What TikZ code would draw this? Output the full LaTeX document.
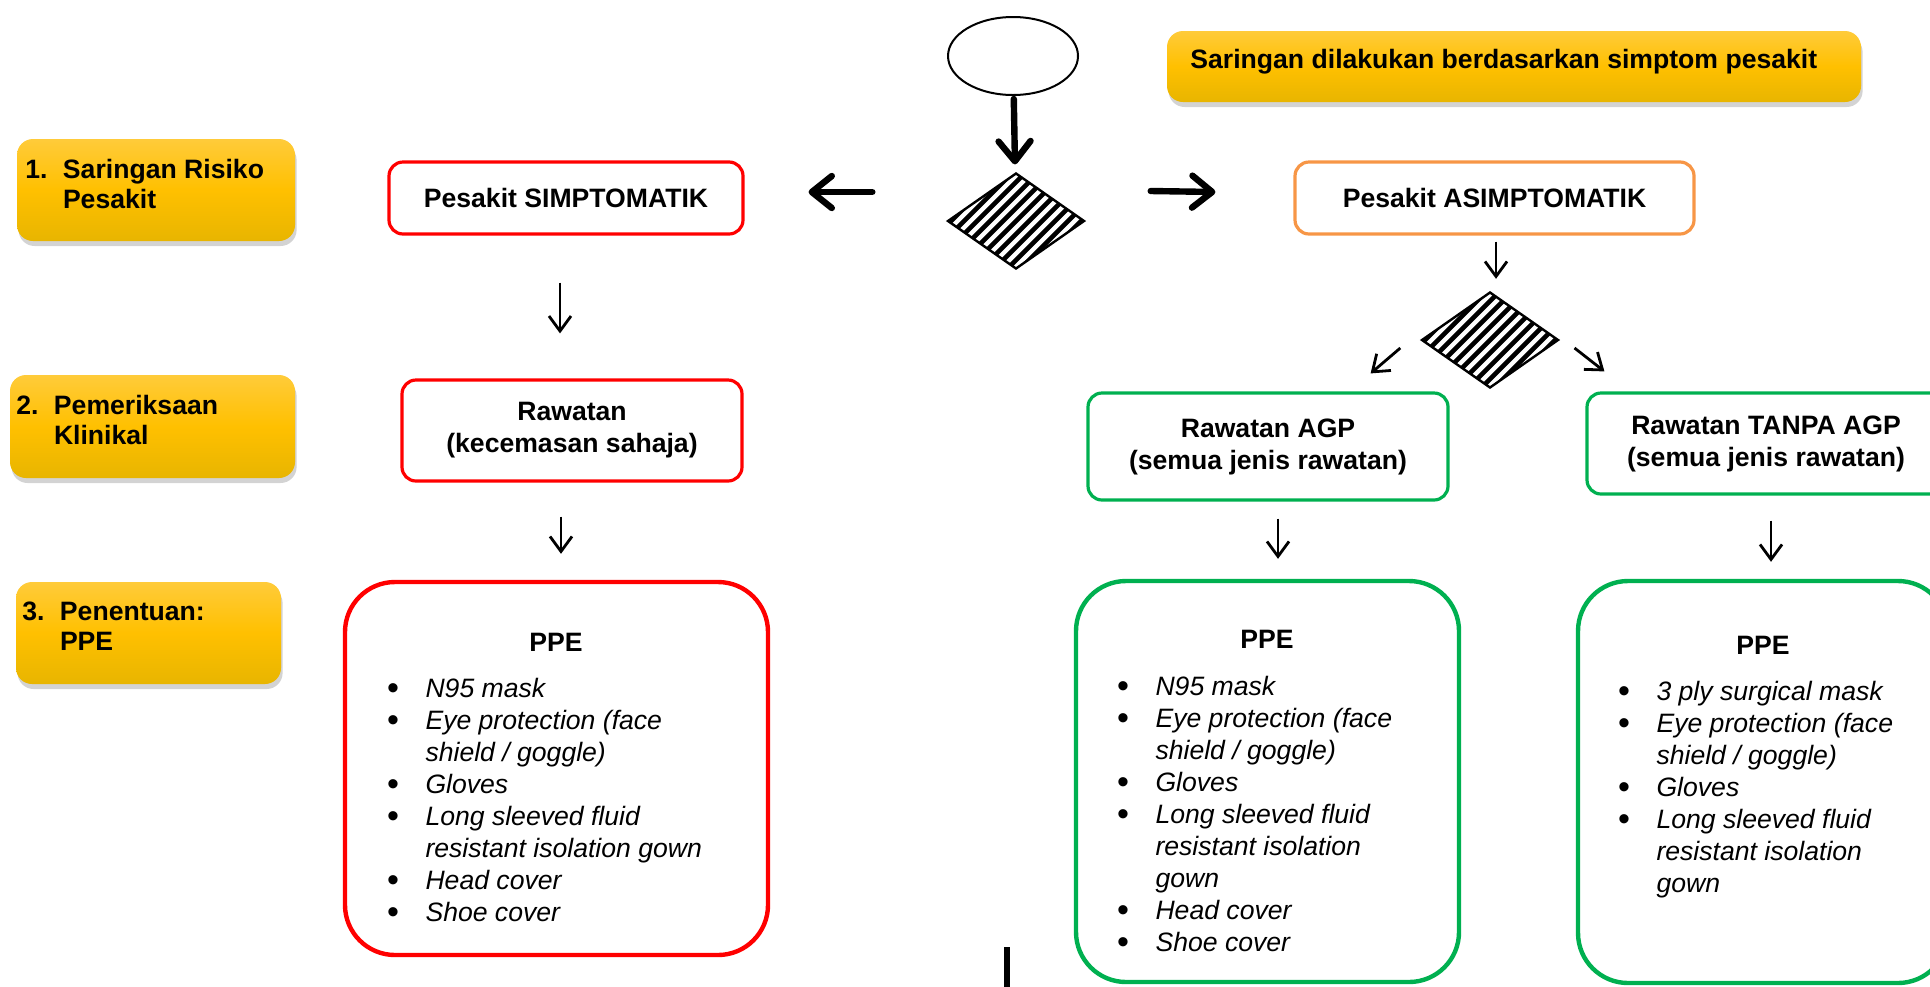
\documentclass[tikz,border=0pt]{standalone}
\usepackage{fontspec}
\setmainfont{Liberation Sans}
\usetikzlibrary{arrows.meta,shapes.geometric,shadows}

\definecolor{ytop}{HTML}{FFCB3A}
\definecolor{ymid}{HTML}{FFC000}
\definecolor{ybot}{HTML}{E8B500}
\definecolor{symred}{HTML}{FF0000}
\definecolor{asyorange}{HTML}{F79646}
\definecolor{agpgreen}{HTML}{00B050}

\newcommand{\basefont}{\fontsize{13.3}{16}\selectfont}
\newcommand{\itm}{\makebox[19.3pt][l]{\raisebox{-0.08em}{\fontsize{17}{16}\selectfont\textbullet}}}
\newcommand{\cnt}{\hspace*{19.3pt}}
\newcommand{\num}[1]{\makebox[18.8pt][l]{#1}}

\begin{document}
\begin{tikzpicture}[x=0.5pt, y=-0.5pt, font=\basefont,
  stage/.style={rounded corners=8pt, top color=ytop, bottom color=ybot, middle color=ymid,
    drop shadow={shadow xshift=0.8pt, shadow yshift=-2.5pt, opacity=0.35}, inner sep=0pt},
  stagetxt/.style={anchor=north west, inner sep=0pt, align=left,
    font=\fontsize{13.3}{15}\selectfont\bfseries},
  flowbox/.style={draw, line width=1.6pt, rounded corners=7pt, inner sep=0pt, align=center,
    font=\basefont\bfseries},
  ppebox/.style={draw, line width=2.2pt, rounded corners=25pt, inner sep=0pt},
  ppelist/.style={anchor=north west, inner sep=0pt, align=left, font=\basefont\itshape},
  hatch/.style={diamond, draw, line width=1.2pt, inner sep=0pt, minimum width=68.5pt,
    minimum height=48pt, path picture={
      \foreach \k in {-10,...,10}
        \draw[line width=2.3pt] ([xshift=\k*6.5pt-30pt, yshift=-30pt]path picture bounding box.center)
          -- ++(60pt,60pt);}},
  bigarrow/.style={line width=3.2pt, line cap=round, -{Straight Barb[length=10pt, width=16pt, round]}},
  thinarrow/.style={line width=1.4pt, -{Straight Barb[length=7.5pt, width=11pt]}},
]
  \useasboundingbox (0,0) rectangle (1930,986);

  % Stages
  \node[stage, minimum width=139pt, minimum height=51pt] (s1) at (156,190) {};
  \node[stage, minimum width=142.5pt, minimum height=51.5pt] (s2) at (152.5,426.5) {};
  \node[stage, minimum width=132.5pt, minimum height=51pt] (s3) at (148.5,633) {};
  \node[stage, minimum width=347pt, minimum height=35.5pt] (note) at (1514,66.5) {};
  \node[stagetxt] (s1t) at (25,159) {\num{1.}Saringan Risiko\\\num{}Pesakit};
  \node[stagetxt] (s2t) at (16,395) {\num{2.}Pemeriksaan\\\num{}Klinikal};
  \node[stagetxt] (s3t) at (22,602) {\num{3.}Penentuan:\\\num{}PPE};
  \node[stagetxt, font=\basefont\bfseries] (notet) at (1190,49)
    {Saringan dilakukan berdasarkan simptom pesakit};

  % Screening
  \node[ellipse, draw, line width=1pt, minimum width=65pt, minimum height=39pt] (start) at (1013,56) {};
  \node[hatch] (split) at (1016,221) {};
  \node[flowbox, draw=symred, minimum width=177pt, minimum height=36pt] (simp) at (566,198)
    {Pesakit SIMPTOMATIK};
  \node[flowbox, draw=asyorange, minimum width=199.5pt, minimum height=36pt] (asimp) at (1494.5,198)
    {Pesakit ASIMPTOMATIK};

  % Treatment
  \node[flowbox, draw=symred, minimum width=170pt, minimum height=50.5pt] (rawS) at (572,430.5)
    {Rawatan\\(kecemasan sahaja)};
  \node[hatch] (agpq) at (1490,340) {};
  \node[flowbox, draw=agpgreen, minimum width=180pt, minimum height=53.5pt] (agp) at (1268,446.5)
    {Rawatan AGP\\(semua jenis rawatan)};
  \node[flowbox, draw=agpgreen, minimum width=179pt, minimum height=50.5pt] (tanpa) at (1766,443.5)
    {Rawatan TANPA AGP\\(semua jenis rawatan)};

  % PPE
  \node[ppebox, draw=symred, minimum width=211.5pt, minimum height=186.5pt] (ppeS) at (556.5,768.5) {};
  \node[ppebox, draw=agpgreen, minimum width=191.5pt, minimum height=200.5pt] (ppeA) at (1267.5,781.5) {};
  \node[ppebox, draw=agpgreen, minimum width=185pt, minimum height=201pt] (ppeN) at (1763,782) {};
  \node[font=\basefont\bfseries] (ppeSt) at (556,642) {PPE};
  \node[font=\basefont\bfseries] (ppeAt) at (1267,639) {PPE};
  \node[font=\basefont\bfseries] (ppeNt) at (1763,645) {PPE};
  \node[ppelist] (ppeSl) at (386.5,678) {\itm N95 mask\\\itm Eye protection (face\\\cnt shield / goggle)\\
    \itm Gloves\\\itm Long sleeved fluid\\\cnt resistant isolation gown\\\itm Head cover\\\itm Shoe cover};
  \node[ppelist] (ppeAl) at (1116.5,676) {\itm N95 mask\\\itm Eye protection (face\\\cnt shield / goggle)\\
    \itm Gloves\\\itm Long sleeved fluid\\\cnt resistant isolation\\\cnt gown\\\itm Head cover\\\itm Shoe cover};
  \node[ppelist] (ppeNl) at (1617.5,681) {\itm 3 ply surgical mask\\\itm Eye protection (face\\\cnt shield / goggle)\\
    \itm Gloves\\\itm Long sleeved fluid\\\cnt resistant isolation\\\cnt gown};

  % Arrows
  \draw[bigarrow, shorten <=1.5pt, shorten >=4pt] (start) -- (split);
  \draw[bigarrow] ([xshift=-37pt, yshift=14.5pt]split.west) -- ([xshift=32pt, yshift=3pt]simp.east);
  \draw[bigarrow] ([xshift=32.5pt, yshift=15pt]split.east) -- ([xshift=-39pt, yshift=3pt]asimp.west);
  \draw[thinarrow, shorten <=23.5pt, shorten >=22.5pt] ([xshift=-3pt]simp.south) -- ([xshift=-6pt]rawS.north);
  \draw[thinarrow, shorten <=17pt, shorten >=13pt] ([xshift=-5.5pt]rawS.south) -- ([xshift=2.25pt]ppeS.north);
  \draw[thinarrow, shorten <=3pt, shorten >=6pt] ([xshift=0.75pt]asimp.south) -- ([xshift=3pt]agpq.north);
  \draw[thinarrow] ([xshift=-10pt, yshift=-4pt]agpq.west) -- ([xshift=-39.5pt, yshift=9pt]agp.north east);
  \draw[thinarrow] ([xshift=7.4pt, yshift=-4pt]agpq.east) -- ([xshift=9.5pt, yshift=10pt]tanpa.north west);
  \draw[thinarrow, shorten <=8.5pt, shorten >=10pt] ([xshift=5pt]agp.south) -- ([xshift=5.25pt]ppeA.north);
  \draw[thinarrow, shorten <=12.5pt, shorten >=8.5pt] ([xshift=2.5pt]tanpa.south) -- ([xshift=4pt]ppeN.north);
  \coordinate (stub) at (1007,947);
  \draw[line width=3pt] (stub) -- ++(0,60);

\end{tikzpicture}
\end{document}
